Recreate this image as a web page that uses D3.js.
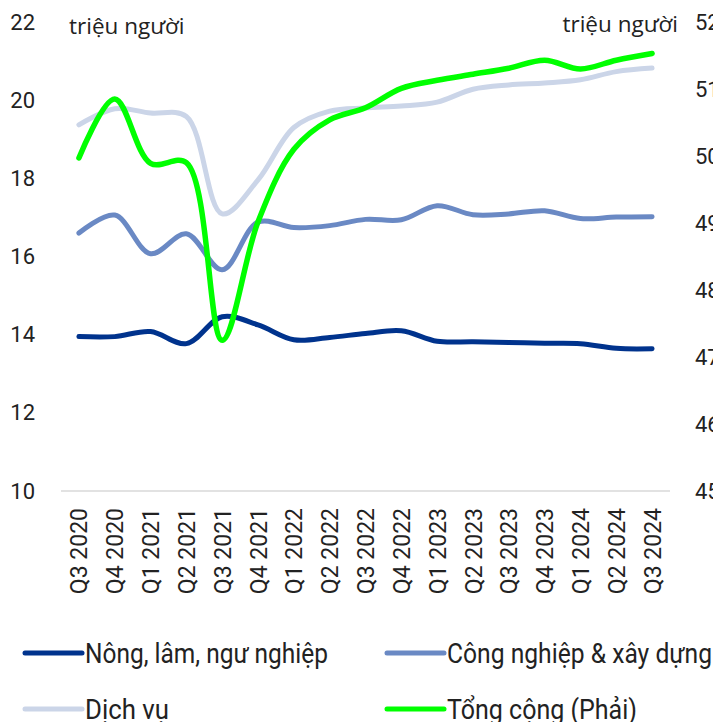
<!DOCTYPE html>
<html>
<head>
<meta charset="utf-8">
<script src="https://cdn.jsdelivr.net/npm/d3@7"></script>
<style>
  body { margin: 0; background: #fff; }
  #chart text { font-family: Roboto, "Noto Sans", sans-serif; fill: #222; }
</style>
</head>
<body>
<div id="chart"></div>
<script>
// quarters on the x axis
var quarters = ["Q3 2020", "Q4 2020", "Q1 2021", "Q2 2021", "Q3 2021", "Q4 2021",
    "Q1 2022", "Q2 2022", "Q3 2022", "Q4 2022", "Q1 2023", "Q2 2023",
    "Q3 2023", "Q4 2023", "Q1 2024", "Q2 2024", "Q3 2024"];

// millions of people (left axis)
var nongLamNgu = [13.95, 13.95, 14.08, 13.77, 14.46, 14.25, 13.87, 13.93, 14.03, 14.1,
    13.83, 13.82, 13.8, 13.78, 13.77, 13.65, 13.64];
var congNghiep = [16.6, 17.06, 16.07, 16.58, 15.66, 16.88, 16.74, 16.79, 16.95, 16.94,
    17.3, 17.07, 17.09, 17.17, 16.97, 17.01, 17.02];
var dichVu = [19.37, 19.78, 19.67, 19.58, 17.09, 17.96, 19.3, 19.72, 19.8, 19.85,
    19.95, 20.28, 20.39, 20.44, 20.52, 20.73, 20.82];

// total (right axis)
var tongCong = [49.97, 50.85, 49.89, 49.9, 47.25, 49.02, 50.1, 50.54, 50.72, 51.01,
    51.13, 51.22, 51.31, 51.43, 51.3, 51.43, 51.53];

var leftTicks = [10, 12, 14, 16, 18, 20, 22];
var rightTicks = [45, 46, 47, 48, 49, 50, 51, 52];

var series = [
    { name: "Nông, lâm, ngư nghiệp", values: nongLamNgu, color: "#00338d", axis: "left" },
    { name: "Công nghiệp & xây dựng", values: congNghiep, color: "#6a89c4", axis: "left" },
    { name: "Dịch vụ", values: dichVu, color: "#cbd5e8", axis: "left" },
    { name: "Tổng cộng (Phải)", values: tongCong, color: "#00ff00", axis: "right" }
];

var w = 713, h = 722;
var margin = { top: 22, right: 43, bottom: 231, left: 61 };
var width = w - margin.left - margin.right;
var height = h - margin.top - margin.bottom;

var svg = d3.select("#chart").append("svg")
    .attr("width", w)
    .attr("height", h);

var g = svg.append("g")
    .attr("transform", `translate(${margin.left},${margin.top})`);

var x = d3.scalePoint().domain(quarters).range([0, width]).padding(0.5);
var yLeft = d3.scaleLinear().domain([10, 22]).range([height, 0]);
var yRight = d3.scaleLinear().domain([45, 52]).range([height, 0]);

// baseline
g.append("line")
    .attr("x1", 0).attr("x2", width)
    .attr("y1", height).attr("y2", height)
    .attr("stroke", "#d9d9d9")
    .attr("stroke-width", 1.5);

// axes
var leftAxis = g.append("g")
    .call(d3.axisLeft(yLeft).tickValues(leftTicks).tickSize(0).tickPadding(26));
var rightAxis = g.append("g")
    .attr("transform", `translate(${width},0)`)
    .call(d3.axisRight(yRight).tickValues(rightTicks).tickSize(0).tickPadding(25));
var bottomAxis = g.append("g")
    .attr("transform", `translate(0,${height})`)
    .call(d3.axisBottom(x).tickSize(0));

[leftAxis, rightAxis, bottomAxis].forEach(a => a.select(".domain").remove());
leftAxis.selectAll("text").style("font-size", "22px");
rightAxis.selectAll("text").style("font-size", "22px");
bottomAxis.selectAll("text")
    .style("font-size", "23px")
    .attr("text-anchor", "end")
    .attr("transform", "rotate(-90)")
    .attr("x", -17)
    .attr("y", 0)
    .attr("dy", "0.35em");

// unit labels
g.append("text").attr("x", 8).attr("y", 12)
    .style("font-family", "'Open Sans', sans-serif")
    .style("font-size", "22.5px").text("triệu người");
g.append("text").attr("x", width + 8).attr("y", 10)
    .attr("text-anchor", "end")
    .style("font-family", "'Open Sans', sans-serif")
    .style("font-size", "22.5px").text("triệu người");

// lines
series.forEach(s => {
    var yScale = s.axis === "left" ? yLeft : yRight;
    var line = d3.line()
        .x((d, i) => x(quarters[i]))
        .y(d => yScale(d))
        .curve(d3.curveCatmullRom.alpha(0.5));
    g.append("path")
        .attr("fill", "none")
        .attr("stroke", s.color)
        .attr("stroke-width", s.axis === "right" ? 5.5 : 5)
        .attr("stroke-linecap", "round")
        .attr("d", line(s.values));
});

// legend
var legend = svg.append("g");
var legendPos = [[25, 653], [387, 653], [25, 709], [387, 709]];
var legendWidths = [243, 265, 84, 190];
series.forEach((s, i) => {
    var item = legend.append("g")
        .attr("transform", `translate(${legendPos[i][0]},${legendPos[i][1]})`);
    item.append("line")
        .attr("x1", 0).attr("x2", 57)
        .attr("stroke", s.color)
        .attr("stroke-width", 5)
        .attr("stroke-linecap", "round");
    item.append("text")
        .attr("x", 60)
        .attr("dy", "0.35em")
        .attr("textLength", legendWidths[i])
        .attr("lengthAdjust", "spacingAndGlyphs")
        .style("font-size", "28px")
        .text(s.name);
});
</script>
</body>
</html>
